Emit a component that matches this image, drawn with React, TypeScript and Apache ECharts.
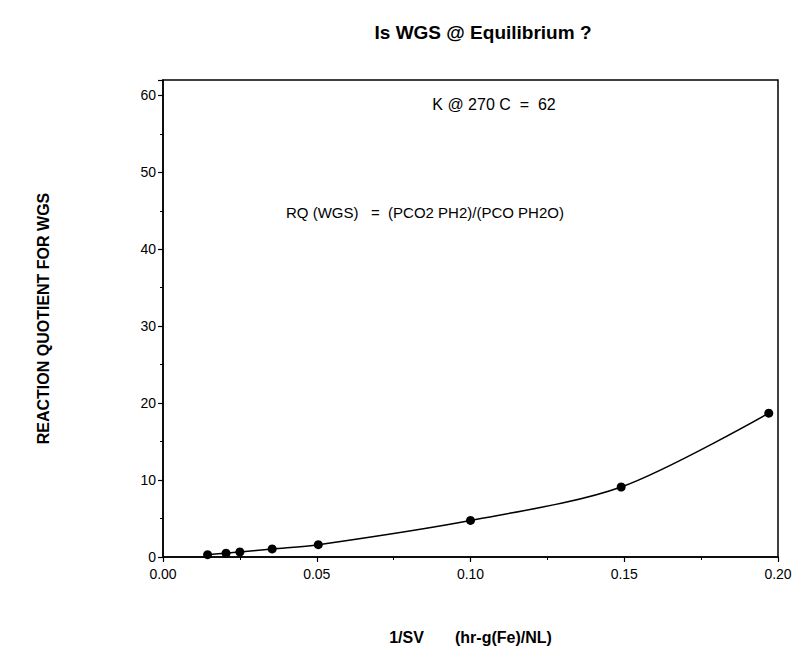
import React, { useEffect, useRef } from 'react';
import * as echarts from 'echarts';

const titleText = 'Is WGS @ Equilibrium ?';
const xAxisName = '1/SV       (hr-g(Fe)/NL)';
const yAxisName = 'REACTION QUOTIENT FOR WGS';
const noteK = 'K @ 270 C  =  62';
const noteRQ = 'RQ (WGS)   =  (PCO2 PH2)/(PCO PH2O)';

const invSV = [0.0145, 0.0205, 0.025, 0.0355, 0.0505, 0.1, 0.149, 0.197];
const rqValues = [0.3, 0.5, 0.65, 1.05, 1.6, 4.75, 9.1, 18.7];

const FONT = '"Liberation Sans", Arial, sans-serif';

export default function App() {
  const ref = useRef<HTMLDivElement>(null);
  useEffect(() => {
    if (!ref.current) return;
    const chart = echarts.init(ref.current, undefined, { renderer: 'svg' });
    const pts = invSV.map((x, i) => [x, rqValues[i]]);
    chart.setOption({
      animation: false,
      backgroundColor: '#fff',
      textStyle: { fontFamily: FONT, color: '#000' },
      grid: {
        left: 163,
        right: 21,
        top: 80,
        bottom: 110,
        show: true,
        borderColor: '#000',
        borderWidth: 1.5,
        backgroundColor: 'transparent',
      },
      xAxis: {
        type: 'value',
        min: 0,
        max: 0.2,
        interval: 0.05,
        name: xAxisName,
        nameLocation: 'middle',
        nameGap: 72,
        nameTextStyle: { fontFamily: FONT, fontSize: 16, color: '#000', fontWeight: 'bold' },
        axisLine: { lineStyle: { color: '#000', width: 1.5 } },
        axisTick: { show: true, inside: false, length: 5, lineStyle: { color: '#000', width: 1.2 } },
        minorTick: { show: true, splitNumber: 2, length: 3, lineStyle: { color: '#000', width: 1 } },
        splitLine: { show: false },
        axisLabel: {
          color: '#000',
          fontFamily: FONT,
          fontSize: 14,
          margin: 10,
          formatter: (v: number) => v.toFixed(2),
        },
      },
      yAxis: {
        type: 'value',
        min: 0,
        max: 62,
        interval: 10,
        name: yAxisName,
        nameLocation: 'middle',
        nameGap: 112,
        nameRotate: 90,
        nameTextStyle: { fontFamily: FONT, fontSize: 16, color: '#000', fontWeight: 'bold' },
        axisLine: { lineStyle: { color: '#000', width: 1.5 } },
        axisTick: { show: true, inside: false, length: 5, lineStyle: { color: '#000', width: 1.2 } },
        minorTick: { show: true, splitNumber: 2, length: 3, lineStyle: { color: '#000', width: 1 } },
        splitLine: { show: false },
        axisLabel: {
          color: '#000',
          fontFamily: FONT,
          fontSize: 14,
          margin: 7,
          formatter: (v: number) => (v % 10 === 0 ? String(v) : ''),
        },
      },
      series: [
        {
          type: 'line',
          data: pts,
          smooth: 0.3,
          symbol: 'circle',
          symbolSize: 9,
          itemStyle: { color: '#000' },
          lineStyle: { color: '#000', width: 1.5 },
        },
      ],
      graphic: [
        {
          type: 'text',
          x: 483,
          y: 32,
          style: {
            text: titleText,
            fill: '#000',
            font: `bold 19px ${FONT}`,
            align: 'center',
            verticalAlign: 'middle',
          },
        },
        {
          type: 'text',
          x: 494,
          y: 104,
          style: {
            text: noteK,
            fill: '#000',
            font: `16px ${FONT}`,
            align: 'center',
            verticalAlign: 'middle',
          },
        },
        {
          type: 'text',
          x: 286,
          y: 212,
          style: {
            text: noteRQ,
            fill: '#000',
            font: `15px ${FONT}`,
            align: 'left',
            verticalAlign: 'middle',
          },
        },
      ],
    });
    return () => chart.dispose();
  }, []);
  return (
    <div
      ref={ref}
      style={{ position: 'fixed', left: 0, top: 0, width: 799, height: 667, background: '#fff' }}
    />
  );
}
